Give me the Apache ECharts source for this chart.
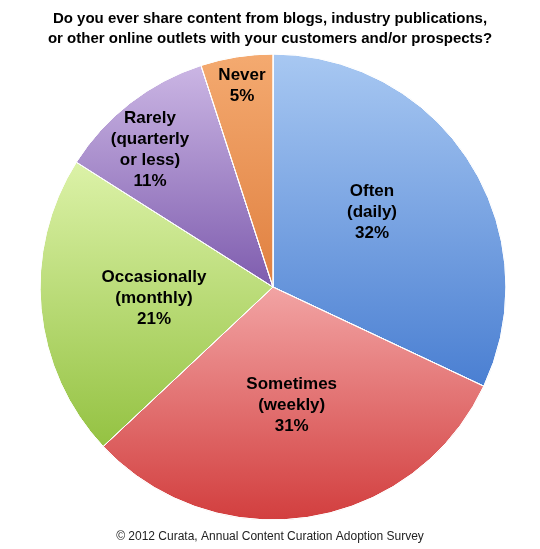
<!DOCTYPE html>
<html><head><meta charset="utf-8">
<script src="https://cdn.jsdelivr.net/npm/echarts@6/dist/echarts.min.js"></script>
<style>html,body{margin:0;padding:0;background:#fff}#c{width:540px;height:549px}</style>
</head><body><div id="c"></div>
<script>
const categories = ["Often\n(daily)", "Sometimes\n(weekly)", "Occasionally\n(monthly)", "Rarely\n(quarterly\nor less)", "Never"];
const values = [32, 31, 21, 11, 5];
const colorsTop = ["#a8c8f2", "#f2a4a4", "#dcf2a8", "#cbb6e4", "#f4aa70"];
const colorsBottom = ["#4a7fd2", "#d23e3e", "#94c242", "#7e5cae", "#e08040"];
const labelPos = {0: [372, 212], 3: [150, 150], 4: [242, 86]};
const chart = echarts.init(document.getElementById('c'));
chart.setOption({
  backgroundColor: '#fff',
  title: [{
    text: 'Do you ever share content from blogs, industry publications,\nor other online outlets with your customers and/or prospects?',
    left: 'center', top: 4,
    textStyle: {fontFamily: 'Liberation Sans', fontWeight: 'bold', fontSize: 15, lineHeight: 20, color: '#000'}
  }, {
    text: '© 2012 Curata, Annual Content Curation Adoption Survey',
    left: 'center', top: 526,
    textStyle: {fontFamily: 'Liberation Sans', fontWeight: 'normal', fontSize: 12, color: '#222'}
  }],
  series: [{
    type: 'pie',
    center: [273, 287],
    radius: [0, 233],
    startAngle: 90,
    clockwise: true,
    silent: true,
    avoidLabelOverlap: false,
    itemStyle: {borderColor: '#fff', borderWidth: 1},
    label: {
      position: 'inside', color: '#000', fontFamily: 'Liberation Sans', fontWeight: 'bold', fontSize: 17, lineHeight: 21,
      formatter: p => p.name + '\n' + p.value + '%'
    },
    labelLayout: p => labelPos[p.dataIndex] ? {x: labelPos[p.dataIndex][0], y: labelPos[p.dataIndex][1], align: 'center', verticalAlign: 'middle', hideOverlap: false} : {hideOverlap: false},
    data: categories.map((n, i) => ({
      name: n, value: values[i],
      itemStyle: {color: {type: 'linear', x: 0, y: 0, x2: 0, y2: 1, colorStops: [{offset: 0, color: colorsTop[i]}, {offset: 1, color: colorsBottom[i]}]}}
    }))
  }]
});
</script></body></html>
